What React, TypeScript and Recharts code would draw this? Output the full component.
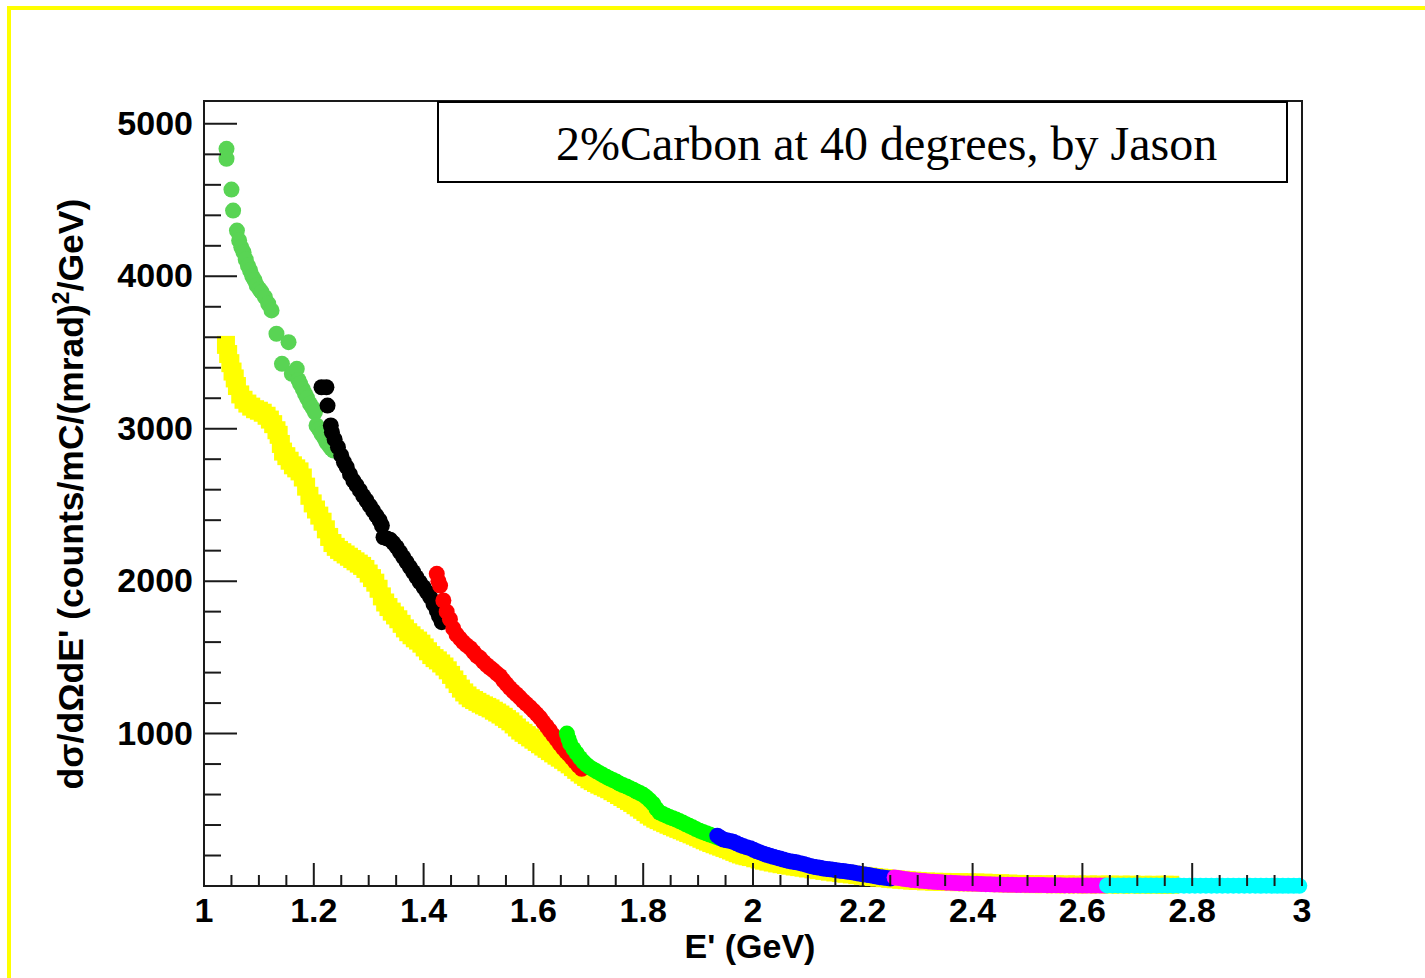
import React from 'react';
import { ScatterChart, Scatter, XAxis, YAxis, ReferenceArea } from 'recharts';

// Cross-section points per spectrometer setting: [E' (GeV), dσ/dΩdE']
const yellowRun: [number, number][] = [
  [1.040, 3550], [1.044, 3490], [1.048, 3430], [1.052, 3375], [1.056, 3330], [1.060, 3280], [1.066, 3225],
  [1.072, 3190], [1.079, 3165], [1.086, 3145], [1.093, 3128], [1.100, 3118], [1.107, 3105], [1.114, 3085],
  [1.120, 3060], [1.126, 3030], [1.132, 2990], [1.136, 2960], [1.140, 2900], [1.144, 2850], [1.150, 2820],
  [1.156, 2790], [1.162, 2760], [1.168, 2740], [1.174, 2720], [1.180, 2680], [1.186, 2620], [1.192, 2560],
  [1.198, 2510], [1.204, 2470], [1.210, 2430], [1.216, 2390], [1.222, 2340], [1.228, 2290], [1.234, 2250],
  [1.240, 2225], [1.246, 2205], [1.252, 2190], [1.258, 2175], [1.264, 2160], [1.270, 2145], [1.276, 2130],
  [1.282, 2115], [1.288, 2100], [1.294, 2080], [1.300, 2050], [1.306, 2020], [1.312, 1990], [1.318, 1950],
  [1.324, 1900], [1.330, 1860], [1.336, 1830], [1.342, 1800], [1.348, 1775], [1.354, 1750], [1.360, 1720],
  [1.366, 1690], [1.372, 1665], [1.378, 1645], [1.384, 1625], [1.390, 1610], [1.396, 1590], [1.402, 1565],
  [1.408, 1540], [1.414, 1515], [1.420, 1495], [1.426, 1480], [1.432, 1460], [1.438, 1440], [1.444, 1415],
  [1.450, 1385], [1.456, 1355], [1.462, 1325], [1.468, 1295], [1.474, 1270], [1.480, 1250], [1.486, 1232],
  [1.492, 1220], [1.498, 1208], [1.504, 1196], [1.510, 1185], [1.516, 1175], [1.522, 1165], [1.528, 1150],
  [1.534, 1138], [1.540, 1125], [1.546, 1110], [1.552, 1095], [1.558, 1080], [1.564, 1060], [1.570, 1040],
  [1.576, 1020], [1.582, 1005], [1.588, 990], [1.594, 975], [1.600, 960], [1.606, 945], [1.612, 930],
  [1.618, 915], [1.624, 900], [1.630, 885], [1.636, 870], [1.642, 855], [1.648, 842], [1.654, 828],
  [1.660, 812], [1.666, 798], [1.672, 780], [1.678, 762], [1.684, 745], [1.690, 730], [1.696, 715],
  [1.702, 700], [1.708, 688], [1.714, 676], [1.720, 665], [1.726, 655], [1.732, 645], [1.738, 635],
  [1.744, 622], [1.750, 610], [1.756, 597], [1.762, 584], [1.768, 571], [1.774, 558], [1.780, 545],
  [1.786, 530], [1.792, 515], [1.798, 500], [1.804, 485], [1.810, 468], [1.816, 455], [1.822, 442],
  [1.828, 432], [1.834, 422], [1.840, 412], [1.846, 402], [1.852, 393], [1.858, 384], [1.864, 375],
  [1.870, 366], [1.876, 357], [1.882, 348], [1.888, 339], [1.894, 330], [1.900, 320], [1.906, 310],
  [1.912, 300], [1.918, 291], [1.924, 282], [1.930, 274], [1.936, 266], [1.942, 258], [1.948, 250],
  [1.954, 242], [1.960, 233], [1.966, 224], [1.972, 215], [1.978, 207], [1.984, 200], [1.990, 195],
  [1.996, 190], [2.004, 182], [2.012, 174], [2.020, 166], [2.028, 160], [2.036, 154], [2.044, 148],
  [2.052, 143], [2.060, 138], [2.068, 133], [2.076, 128], [2.084, 124], [2.092, 120], [2.100, 115],
  [2.110, 109], [2.120, 104], [2.130, 99], [2.140, 94], [2.150, 89], [2.160, 85], [2.170, 80],
  [2.180, 76], [2.190, 71], [2.200, 67], [2.210, 63], [2.220, 59], [2.230, 55], [2.240, 51],
  [2.250, 47], [2.260, 44], [2.270, 41], [2.280, 38], [2.290, 35], [2.300, 33], [2.315, 30],
  [2.330, 28], [2.345, 27], [2.360, 26], [2.375, 25], [2.390, 24], [2.405, 23], [2.420, 22],
  [2.435, 20], [2.450, 18], [2.465, 16], [2.480, 14], [2.495, 13], [2.510, 12], [2.530, 12],
  [2.550, 11], [2.570, 11], [2.590, 10], [2.610, 10], [2.630, 10], [2.650, 9], [2.670, 9],
  [2.690, 9], [2.710, 8], [2.730, 8], [2.750, 8], [2.760, 8],
];

const lightGreenRun: [number, number][] = [
  [1.041, 4836], [1.041, 4771], [1.050, 4569], [1.053, 4431], [1.060, 4300], [1.064, 4235], [1.068, 4190],
  [1.072, 4158], [1.076, 4110], [1.080, 4070], [1.084, 4038], [1.088, 4000], [1.092, 3975], [1.096, 3940],
  [1.101, 3915], [1.105, 3896], [1.111, 3863], [1.117, 3820], [1.123, 3776], [1.132, 3623], [1.142, 3426],
  [1.154, 3568], [1.160, 3360], [1.169, 3393], [1.172, 3320], [1.175, 3295], [1.180, 3260], [1.184, 3229],
  [1.188, 3200], [1.193, 3163], [1.198, 3135], [1.202, 3108], [1.205, 3021], [1.210, 2995], [1.214, 2967],
  [1.219, 2940], [1.223, 2911], [1.228, 2890], [1.232, 2870], [1.236, 2857],
];

const blackRun: [number, number][] = [
  [1.214, 3272], [1.223, 3272], [1.225, 3152], [1.231, 3021], [1.233, 2977], [1.238, 2930], [1.244, 2879],
  [1.250, 2825], [1.255, 2780], [1.260, 2748], [1.266, 2700], [1.272, 2660], [1.278, 2628], [1.284, 2595],
  [1.290, 2560], [1.296, 2529], [1.302, 2495], [1.308, 2463], [1.314, 2430], [1.320, 2398], [1.324, 2365],
  [1.327, 2288], [1.333, 2280], [1.339, 2272], [1.345, 2250], [1.351, 2223], [1.357, 2190], [1.363, 2157],
  [1.369, 2125], [1.375, 2092], [1.381, 2060], [1.387, 2026], [1.393, 1993], [1.400, 1960], [1.406, 1928],
  [1.412, 1895], [1.418, 1850], [1.424, 1807], [1.428, 1770], [1.433, 1731],
];

const redRun: [number, number][] = [
  [1.424, 2048], [1.427, 2000], [1.430, 1971], [1.436, 1873], [1.442, 1800], [1.448, 1750], [1.454, 1690],
  [1.460, 1650], [1.466, 1625], [1.472, 1600], [1.478, 1580], [1.485, 1560], [1.491, 1535], [1.497, 1510],
  [1.503, 1495], [1.509, 1470], [1.515, 1450], [1.521, 1432], [1.527, 1415], [1.533, 1395], [1.539, 1378],
  [1.545, 1350], [1.551, 1325], [1.557, 1300], [1.563, 1278], [1.569, 1258], [1.575, 1238], [1.581, 1215],
  [1.587, 1195], [1.594, 1172], [1.600, 1150], [1.606, 1128], [1.612, 1105], [1.618, 1075], [1.624, 1048],
  [1.630, 1020], [1.636, 990], [1.642, 962], [1.648, 933], [1.654, 905], [1.660, 880], [1.664, 865],
  [1.670, 840], [1.676, 815], [1.682, 790], [1.688, 769],
];

const greenRun: [number, number][] = [
  [1.661, 1000], [1.664, 965], [1.667, 935], [1.673, 900], [1.679, 870], [1.685, 840], [1.691, 815],
  [1.697, 795], [1.703, 778], [1.709, 765], [1.715, 752], [1.721, 740], [1.727, 728], [1.733, 716],
  [1.739, 705], [1.745, 695], [1.751, 685], [1.757, 672], [1.763, 662], [1.770, 652], [1.776, 642],
  [1.782, 632], [1.788, 620], [1.794, 610], [1.800, 598], [1.806, 582], [1.812, 562], [1.818, 540],
  [1.824, 508], [1.830, 482], [1.836, 472], [1.842, 462], [1.848, 452], [1.854, 444], [1.860, 436],
  [1.866, 426], [1.872, 416], [1.878, 405], [1.884, 395], [1.890, 385], [1.896, 374], [1.903, 362],
  [1.909, 354], [1.915, 346], [1.921, 338], [1.927, 330], [1.933, 322], [1.939, 315],
];

const blueRun: [number, number][] = [
  [1.935, 330], [1.940, 318], [1.946, 305], [1.952, 300], [1.958, 296], [1.964, 290], [1.970, 280],
  [1.976, 270], [1.982, 262], [1.988, 255], [1.995, 248], [2.001, 238], [2.007, 228], [2.013, 220],
  [2.019, 212], [2.025, 205], [2.031, 198], [2.037, 192], [2.043, 186], [2.049, 180], [2.055, 174],
  [2.061, 168], [2.067, 163], [2.073, 159], [2.079, 155], [2.086, 150], [2.092, 145], [2.098, 138],
  [2.104, 132], [2.110, 127], [2.116, 123], [2.122, 119], [2.128, 115], [2.134, 112], [2.140, 110],
  [2.146, 107], [2.152, 104], [2.158, 100], [2.164, 98], [2.170, 95], [2.177, 92], [2.183, 88],
  [2.189, 84], [2.195, 80], [2.201, 77], [2.207, 74], [2.213, 70], [2.219, 66], [2.225, 62],
  [2.231, 58], [2.237, 55], [2.244, 52], [2.250, 49],
];

const magentaRun: [number, number][] = [
  [2.258, 56], [2.265, 52], [2.272, 48], [2.280, 44], [2.288, 40], [2.296, 37], [2.304, 35], [2.312, 32],
  [2.320, 30], [2.328, 28], [2.336, 26], [2.344, 24], [2.352, 22], [2.360, 21], [2.368, 19], [2.376, 18],
  [2.384, 17], [2.392, 16], [2.400, 15], [2.408, 14], [2.416, 13], [2.424, 12], [2.432, 11], [2.440, 10],
  [2.448, 10], [2.456, 9], [2.464, 8], [2.472, 8], [2.480, 7], [2.488, 7], [2.496, 7], [2.504, 6],
  [2.512, 6], [2.520, 6], [2.528, 6], [2.536, 5], [2.544, 5], [2.552, 5], [2.560, 5], [2.568, 4],
  [2.576, 4], [2.584, 4], [2.592, 4], [2.600, 3], [2.608, 3], [2.616, 3], [2.624, 3], [2.632, 3],
  [2.640, 3],
];

const cyanRun: [number, number][] = [
  [2.645, 4], [2.655, 4], [2.665, 4], [2.675, 3], [2.685, 4], [2.695, 3], [2.705, 3], [2.715, 3],
  [2.725, 3], [2.735, 3], [2.745, 3], [2.755, 3], [2.765, 2], [2.775, 3], [2.785, 2], [2.795, 2],
  [2.805, 2], [2.815, 2], [2.825, 2], [2.835, 2], [2.845, 2], [2.855, 2], [2.865, 2], [2.875, 2],
  [2.885, 2], [2.895, 2], [2.905, 2], [2.915, 2], [2.925, 1], [2.935, 2], [2.945, 1], [2.955, 1],
  [2.965, 1], [2.975, 1], [2.985, 1], [2.995, 1],
];

// Axis ticks
const xTicks = [
  1, 1.05, 1.1, 1.15, 1.2, 1.25, 1.3, 1.35, 1.4, 1.45, 1.5, 1.55, 1.6, 1.65, 1.7, 1.75, 1.8, 1.85, 1.9, 1.95,
  2, 2.05, 2.1, 2.15, 2.2, 2.25, 2.3, 2.35, 2.4, 2.45, 2.5, 2.55, 2.6, 2.65, 2.7, 2.75, 2.8, 2.85, 2.9, 2.95, 3,
];
const xTickLabels = ['1', '1.2', '1.4', '1.6', '1.8', '2', '2.2', '2.4', '2.6', '2.8', '3'];
const yTicks = [
  200, 400, 600, 800, 1000, 1200, 1400, 1600, 1800, 2000, 2200, 2400, 2600, 2800, 3000,
  3200, 3400, 3600, 3800, 4000, 4200, 4400, 4600, 4800, 5000,
];
const yTickLabels = ['1000', '2000', '3000', '4000', '5000'];

const X_DOMAIN: [number, number] = [1, 3];
const Y_DOMAIN: [number, number] = [0, 5150];

const AXIS_FONT = '"Liberation Sans", Arial, Helvetica, sans-serif';
const SERIF_FONT = '"Liberation Serif", "Times New Roman", Times, serif';
const FRAME = '#1a1a1a';

const toPoints = (run: [number, number][]) => run.map(([x, y]) => ({ x, y }));

const circleShape = (fill: string, r = 8) => (p: any) =>
  p.cx == null ? <g /> : <circle cx={p.cx} cy={p.cy} r={r} fill={fill} />;

const squareShape = (fill: string, s = 18) => (p: any) =>
  p.cx == null ? <g /> : <rect x={p.cx - s / 2} y={p.cy - s / 2} width={s} height={s} fill={fill} />;

const XTick = (props: any) => {
  const { x, y, payload } = props;
  const v: number = payload.value;
  const label = String(Number(v.toFixed(2)));
  const major = xTickLabels.includes(label);
  return (
    <g>
      <line x1={x} x2={x} y1={y} y2={y - (major ? 23 : 11)} stroke={FRAME} strokeWidth={2} />
      {major && (
        <text x={x} y={y + 36} textAnchor="middle" fontFamily={AXIS_FONT} fontWeight="bold" fontSize={34} fill="#000">
          {label}
        </text>
      )}
    </g>
  );
};

const YTick = (props: any) => {
  const { x, y, payload } = props;
  const label = String(payload.value);
  const major = yTickLabels.includes(label);
  return (
    <g>
      <line x1={x} x2={x + (major ? 33 : 17)} y1={y} y2={y} stroke={FRAME} strokeWidth={2} />
      {major && (
        <text x={x - 11} y={y + 11} textAnchor="end" fontFamily={AXIS_FONT} fontWeight="bold" fontSize={34} fill="#000">
          {label}
        </text>
      )}
    </g>
  );
};

const series: { name: string; run: [number, number][]; shape: (p: any) => React.ReactElement }[] = [
  { name: 'yellow', run: yellowRun, shape: squareShape('#ffff00') },
  { name: 'lightgreen', run: lightGreenRun, shape: circleShape('#59d454') },
  { name: 'black', run: blackRun, shape: circleShape('#000000') },
  { name: 'red', run: redRun, shape: circleShape('#ff0000') },
  { name: 'green', run: greenRun, shape: circleShape('#00ff00') },
  { name: 'blue', run: blueRun, shape: circleShape('#0000ff') },
  { name: 'magenta', run: magentaRun, shape: circleShape('#ff00ff') },
  { name: 'cyan', run: cyanRun, shape: circleShape('#00ffff') },
];

export default function App() {
  return (
    <div style={{ position: 'absolute', left: 0, top: 0, width: 1425, height: 978, overflow: 'hidden', background: '#fff' }}>
      <div
        style={{
          position: 'absolute', left: 7, top: 6, width: 1430, height: 980,
          borderTop: '4px solid #ffff00', borderLeft: '4px solid #ffff00',
        }}
      />
      <div style={{ position: 'absolute', left: 0, top: 0 }}>
        <ScatterChart width={1425} height={978} margin={{ top: 101, right: 123, bottom: 42, left: 104 }}>
          <XAxis
            type="number"
            dataKey="x"
            domain={X_DOMAIN}
            ticks={xTicks}
            interval={0}
            tickSize={0}
            tickMargin={0}
            tickLine={false}
            axisLine={{ stroke: FRAME, strokeWidth: 2 }}
            tick={<XTick />}
            height={50}
          />
          <YAxis
            type="number"
            dataKey="y"
            domain={Y_DOMAIN}
            ticks={yTicks}
            interval={0}
            tickSize={0}
            tickMargin={0}
            tickLine={false}
            axisLine={{ stroke: FRAME, strokeWidth: 2 }}
            tick={<YTick />}
            width={100}
          />
          <ReferenceArea x1={1} x2={3} y1={0} y2={5150} fill="none" stroke={FRAME} strokeWidth={2} ifOverflow="visible" />
          {series.map((s) => (
            <Scatter
              key={s.name}
              name={s.name}
              data={toPoints(s.run)}
              shape={s.shape}
              isAnimationActive={false}
            />
          ))}
        </ScatterChart>
      </div>
      <svg width={1425} height={978} style={{ position: 'absolute', left: 0, top: 0, pointerEvents: 'none' }}>
        <rect x={438} y={102} width={849} height={80} fill="#fff" stroke="#000" strokeWidth={2} />
        <text x={556} y={160} fontFamily={SERIF_FONT} fontSize={48} fill="#000">
          2%Carbon at 40 degrees, by Jason
        </text>
        <text x={750} y={958} textAnchor="middle" fontFamily={AXIS_FONT} fontWeight="bold" fontSize={34} fill="#000">
          E' (GeV)
        </text>
        <text
          transform="translate(83,494) rotate(-90)"
          textAnchor="middle"
          fontFamily={AXIS_FONT}
          fontWeight="bold"
          fontSize={35.5}
          fill="#000"
        >
          dσ/dΩdE' (counts/mC/(mrad)
          <tspan dy={-14} fontSize={23}>2</tspan>
          <tspan dy={14}>/GeV)</tspan>
        </text>
      </svg>
    </div>
  );
}
